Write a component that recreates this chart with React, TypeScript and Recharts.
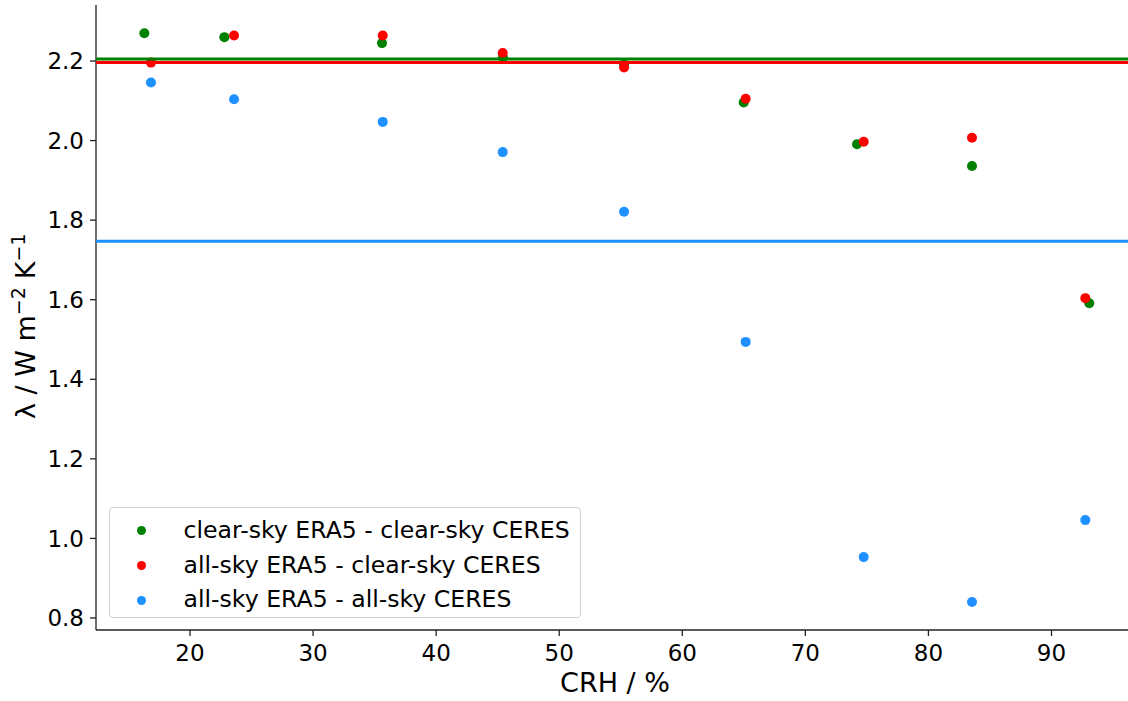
import React from 'react';
import { ScatterChart, Scatter, XAxis, YAxis, ReferenceLine, Legend } from 'recharts';

// CRH bin centres (%) and feedback parameter lambda (W m-2 K-1)
const clearClearCrh = [16.29, 22.79, 35.6, 45.43, 55.27, 64.99, 74.2, 83.54, 93.07];
const clearClearLambda = [2.27, 2.26, 2.245, 2.209, 2.192, 2.096, 1.991, 1.936, 1.591];
const allSkyCrh = [16.83, 23.58, 35.66, 45.41, 55.27, 65.15, 74.74, 83.54, 92.75];
const allClearLambda = [2.196, 2.264, 2.264, 2.22, 2.184, 2.105, 1.997, 2.007, 1.604];
const allAllLambda = [2.146, 2.104, 2.047, 1.971, 1.821, 1.494, 0.953, 0.84, 1.046];

// overall means (horizontal lines)
const meanClearClear = 2.205;
const meanAllClear = 2.196;
const meanAllAll = 1.747;

const seriesNames = [
  'clear-sky ERA5 - clear-sky CERES',
  'all-sky ERA5 - clear-sky CERES',
  'all-sky ERA5 - all-sky CERES',
];
const seriesColors = ['#008000', '#ff0000', '#1e90ff'];

const xTicks = [20, 30, 40, 50, 60, 70, 80, 90];
const yTicks = [0.8, 1.0, 1.2, 1.4, 1.6, 1.8, 2.0, 2.2];

const clearClearData = clearClearCrh.map((x, i) => ({ x, y: clearClearLambda[i] }));
const allClearData = allSkyCrh.map((x, i) => ({ x, y: allClearLambda[i] }));
const allAllData = allSkyCrh.map((x, i) => ({ x, y: allAllLambda[i] }));

const FONT = '"DejaVu Sans", sans-serif';
const tickStyle = { fontSize: 23, fill: '#000', fontFamily: FONT };

const dot = (color: string) => (p: any) => <circle cx={p.cx} cy={p.cy} r={5} fill={color} />;

const YLabel = () => (
  <text
    x={35}
    y={419}
    transform="rotate(-90, 35, 419)"
    textAnchor="start"
    fontSize={27}
    fontFamily={FONT}
    fill="#000"
  >
    λ / W m
    <tspan dy={-10} fontSize={19}>−2</tspan>
    <tspan dy={10} dx={8}>K</tspan>
    <tspan dy={-10} fontSize={19}>−1</tspan>
  </text>
);

const XLabel = () => (
  <text x={615} y={692} textAnchor="middle" fontSize={27} fontFamily={FONT} fill="#000">
    CRH / %
  </text>
);

const LegendBox = (props: any) => {
  const items = [...(props.payload || [])].sort(
    (a: any, b: any) => seriesNames.indexOf(a.value) - seriesNames.indexOf(b.value),
  );
  return (
    <div
      style={{
        boxSizing: 'border-box',
        width: 472,
        height: 111,
        border: '1px solid #d0d0d0',
        borderRadius: 4,
        background: 'rgba(255,255,255,0.8)',
        paddingTop: 5,
        fontFamily: FONT,
        fontSize: 23.6,
        color: '#000',
      }}
    >
      {items.map((it: any) => (
        <div key={it.value} style={{ display: 'flex', alignItems: 'center', height: 34.7 }}>
          <svg width={9} height={9} style={{ marginLeft: 27, marginTop: 2 }}>
            <circle cx={4.5} cy={4.5} r={4.5} fill={it.color} />
          </svg>
          <span style={{ marginLeft: 38, whiteSpace: 'nowrap' }}>{it.value}</span>
        </div>
      ))}
    </div>
  );
};

export default function App() {
  return (
    <div style={{ position: 'absolute', left: 0, top: 0, fontFamily: FONT }}>
      <ScatterChart width={1128} height={701} margin={{ top: 5, right: 0, bottom: 0, left: 0 }}>
        <XAxis
          type="number"
          dataKey="x"
          domain={[12.362, 96.216]}
          ticks={xTicks}
          allowDataOverflow
          height={71}
          tick={tickStyle}
          tickSize={6}
          tickMargin={9}
          axisLine={{ stroke: '#222', strokeWidth: 1.3 }}
          tickLine={{ stroke: '#222', strokeWidth: 1.3 }}
          label={XLabel}
        />
        <YAxis
          type="number"
          dataKey="y"
          domain={[0.7698, 2.3408]}
          ticks={yTicks}
          allowDataOverflow
          width={96}
          tick={tickStyle}
          tickSize={6}
          tickMargin={6}
          tickFormatter={(v: number) => v.toFixed(1)}
          axisLine={{ stroke: '#222', strokeWidth: 1.3 }}
          tickLine={{ stroke: '#222', strokeWidth: 1.3 }}
          label={YLabel}
        />
        <Scatter
          name={seriesNames[0]}
          data={clearClearData}
          fill={seriesColors[0]}
          shape={dot(seriesColors[0])}
          isAnimationActive={false}
        />
        <Scatter
          name={seriesNames[1]}
          data={allClearData}
          fill={seriesColors[1]}
          shape={dot(seriesColors[1])}
          isAnimationActive={false}
        />
        <Scatter
          name={seriesNames[2]}
          data={allAllData}
          fill={seriesColors[2]}
          shape={dot(seriesColors[2])}
          isAnimationActive={false}
        />
        <ReferenceLine y={meanClearClear} stroke={seriesColors[0]} strokeWidth={3} zIndex={1000} />
        <ReferenceLine y={meanAllClear} stroke={seriesColors[1]} strokeWidth={3} zIndex={1000} />
        <ReferenceLine y={meanAllAll} stroke={seriesColors[2]} strokeWidth={3} zIndex={1000} />
        <Legend
          layout="vertical"
          align="center"
          verticalAlign="middle"
          content={LegendBox}
          wrapperStyle={{ left: 108.5, top: 506.5, width: 472, height: 111 }}
        />
      </ScatterChart>
    </div>
  );
}
